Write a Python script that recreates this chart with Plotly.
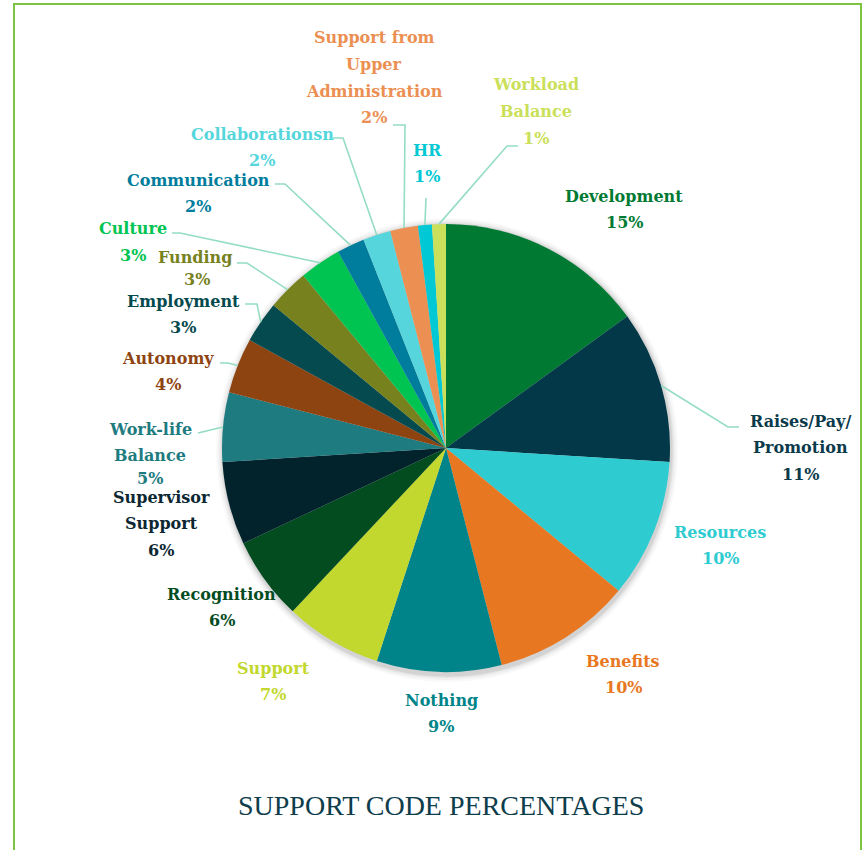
import math
import plotly.graph_objects as go

W, H = 867, 850

# Support codes, clockwise from 12 o'clock
categories = [
    "Development", "Raises/Pay/Promotion", "Resources", "Benefits", "Nothing",
    "Support", "Recognition", "Supervisor Support", "Work-life Balance",
    "Autonomy", "Employment", "Funding", "Culture", "Communication",
    "Collaborationsn", "Support from Upper Administration", "HR",
    "Workload Balance",
]
percentages = [15, 11, 10, 10, 9, 7, 6, 6, 5, 4, 3, 3, 3, 2, 2, 2, 1, 1]

slice_colors = [
    "#007A33", "#023848", "#2ECBD1", "#E87722", "#008489",
    "#C2D82E", "#034C1F", "#02232C", "#1E7B80",
    "#8E4411", "#044A4E", "#77821F", "#00C451", "#007D9C",
    "#56D6DC", "#EC8F52", "#00C8D4", "#CADF5A",
]

# label text lines (percent line appended from the data)
label_lines = {
    "Development": ["Development"],
    "Raises/Pay/Promotion": ["Raises/Pay/", "Promotion"],
    "Resources": ["Resources"],
    "Benefits": ["Benefits"],
    "Nothing": ["Nothing"],
    "Support": ["Support"],
    "Recognition": ["Recognition"],
    "Supervisor Support": ["Supervisor", "Support"],
    "Work-life Balance": ["Work-life", "Balance"],
    "Autonomy": ["Autonomy"],
    "Employment": ["Employment"],
    "Funding": ["Funding"],
    "Culture": ["Culture"],
    "Communication": ["Communication"],
    "Collaborationsn": ["Collaborationsn"],
    "Support from Upper Administration": ["Support from", "Upper", "Administration"],
    "HR": ["HR"],
    "Workload Balance": ["Workload", "Balance"],
}

label_colors = {
    "Raises/Pay/Promotion": "#0B3A4B",
    "Supervisor Support": "#0C2731",
}

# label placement in pixels: centre x, first line y
label_pos = {
    "Development": (624, 196),
    "Raises/Pay/Promotion": (800, 421),
    "Resources": (720, 532),
    "Benefits": (623, 661),
    "Nothing": (441, 700),
    "Support": (273, 668),
    "Recognition": (222, 594),
    "Supervisor Support": (161, 497),
    "Work-life Balance": (150, 429),
    "Autonomy": (168, 358),
    "Employment": (183, 301),
    "Funding": (195, 257),
    "Culture": (133, 228),
    "Communication": (198, 180),
    "Collaborationsn": (262, 134),
    "Support from Upper Administration": (374, 38),
    "HR": (427, 150),
    "Workload Balance": (536, 85),
}

# percent lines that sit apart from their names
pct_pos = {
    "Culture": (133, 255),
    "Funding": (197, 279),
    "Employment": (183, 327),
    "Work-life Balance": (150, 479),
}

# leader line waypoints (pixels), ending at the slice edge
leaders = {
    "Raises/Pay/Promotion": [(739, 427), (728, 427)],
    "Work-life Balance": [(198, 433)],
    "Autonomy": [(220, 363), (228, 363)],
    "Employment": [(245, 304), (257, 304)],
    "Funding": [(237, 263), (247, 263)],
    "Culture": [(172, 233), (180, 233)],
    "Communication": [(275, 184), (285, 184)],
    "Collaborationsn": [(333, 138), (343, 138)],
    "Support from Upper Administration": [(393, 125), (405, 125)],
    "HR": [(426, 198)],
    "Workload Balance": [(518, 146), (507, 146)],
}

CX, CY, R = 446, 448, 224
LINE_H = 26.6
LABEL_FONT = "DejaVu Serif"
LABEL_SIZE = 16


def px(x):
    return x / W


def py(y):
    return 1 - y / H


fig = go.Figure()
fig.add_trace(go.Pie(
    labels=categories,
    values=percentages,
    sort=False,
    direction="clockwise",
    rotation=0,
    marker=dict(colors=slice_colors, line=dict(width=0)),
    textinfo="none",
    hoverinfo="label+percent",
    showlegend=False,
    domain=dict(x=[px(CX - R), px(CX + R)], y=[py(CY + R), py(CY - R)]),
))

shapes = []
# soft drop shadow under the pie
for grow, op in [(7, 0.025), (5, 0.035), (3, 0.05), (1.5, 0.07)]:
    shapes.append(dict(
        type="circle", xref="paper", yref="paper", layer="below",
        x0=px(CX - R - grow + 1), x1=px(CX + R + grow + 1),
        y0=py(CY + R + grow + 3), y1=py(CY - R - grow + 1),
        fillcolor=f"rgba(0,0,0,{op})", line=dict(width=0),
    ))

# outer frame
shapes.append(dict(
    type="rect", xref="paper", yref="paper",
    x0=px(14), x1=px(861), y0=py(860), y1=py(4),
    line=dict(color="#7DC242", width=2), fillcolor="rgba(0,0,0,0)",
))

total = sum(percentages)
cum = 0
annotations = []
for name, val, col in zip(categories, percentages, slice_colors):
    mid = (cum + val / 2) / total * 2 * math.pi
    cum += val
    ax = CX + R * math.sin(mid)
    ay = CY - R * math.cos(mid)

    if name in leaders:
        pts = leaders[name] + [(ax, ay)]
        path = "M " + " L ".join(f"{px(x):.5f},{py(y):.5f}" for x, y in pts)
        shapes.append(dict(
            type="path", xref="paper", yref="paper", path=path,
            line=dict(color="#94DDC3", width=1.6),
        ))

    tcol = label_colors.get(name, col)
    lx, ly = label_pos[name]
    lines = label_lines[name]
    for k, txt in enumerate(lines):
        annotations.append(dict(
            x=px(lx), y=py(ly + k * LINE_H), xref="paper", yref="paper",
            text=f"<b>{txt}</b>", showarrow=False,
            xanchor="center", yanchor="middle",
            font=dict(family=LABEL_FONT, size=LABEL_SIZE, color=tcol),
        ))
    if name in pct_pos:
        qx, qy = pct_pos[name]
    else:
        qx, qy = lx, ly + len(lines) * LINE_H
    annotations.append(dict(
        x=px(qx), y=py(qy), xref="paper", yref="paper",
        text=f"<b>{val}%</b>", showarrow=False,
        xanchor="center", yanchor="middle",
        font=dict(family=LABEL_FONT, size=LABEL_SIZE, color=tcol),
    ))

annotations.append(dict(
    x=px(441), y=py(805), xref="paper", yref="paper",
    text="SUPPORT CODE PERCENTAGES", showarrow=False,
    xanchor="center", yanchor="middle",
    font=dict(family="Liberation Serif", size=28, color="#0E3D4C"),
))

fig.update_layout(
    width=W, height=H,
    margin=dict(l=0, r=0, t=0, b=0),
    paper_bgcolor="white",
    plot_bgcolor="white",
    shapes=shapes,
    annotations=annotations,
)

fig.write_html("out.html")
